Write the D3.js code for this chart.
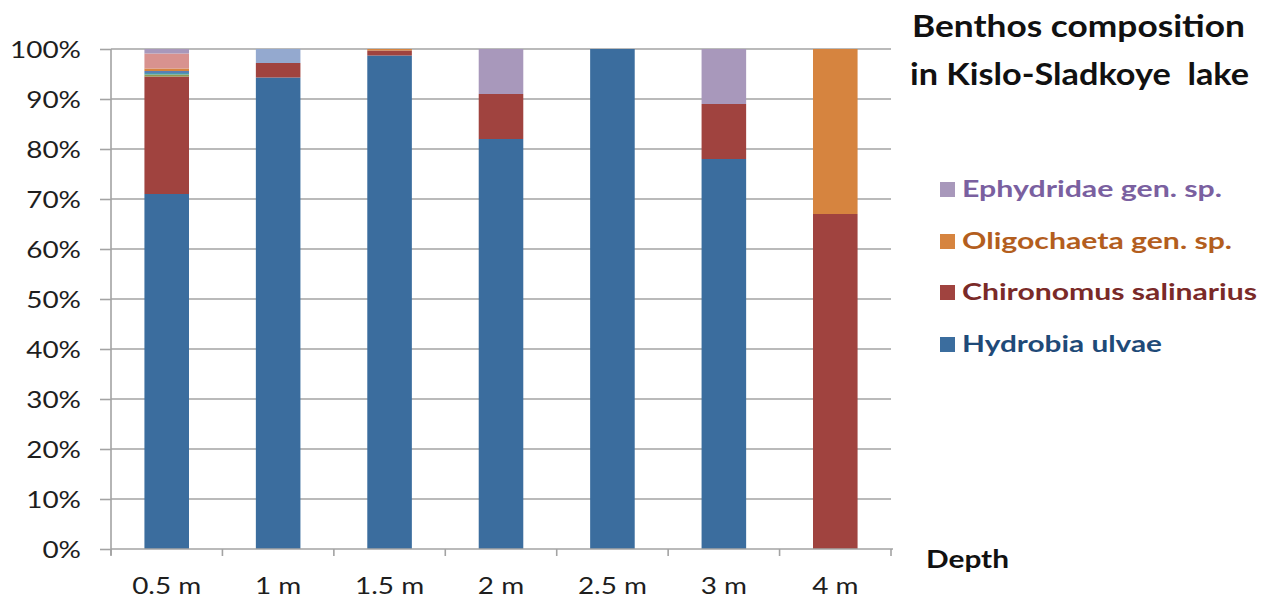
<!DOCTYPE html>
<html>
<head>
<meta charset="utf-8">
<script src="https://cdn.jsdelivr.net/npm/d3@7"></script>
<style>
  html, body { margin: 0; padding: 0; background: #fff; }
  svg { display: block; }
  text { font-family: Lato, "Open Sans", sans-serif; }
</style>
</head>
<body>
<svg id="chart" width="1263" height="603"></svg>
<script>
// Depth categories and share (%) of each taxon in the benthos
const depths = ["0.5 m", "1 m", "1.5 m", "2 m", "2.5 m", "3 m", "4 m"];
const hydrobiaUlvae        = [71.0, 94.3, 98.7, 82, 100, 78, 0];
const chironomusSalinarius = [23.5, 2.9, 1.0, 9, 0, 11, 67];
const minorTaxonA          = [0.4, 0, 0, 0, 0, 0, 0];
const minorTaxonB          = [0.3, 0, 0, 0, 0, 0, 0];
const minorTaxonC          = [0.4, 0, 0, 0, 0, 0, 0];
const oligochaetaGenSp     = [0.5, 0, 0.3, 0, 0, 0, 33];
const minorTaxonD          = [3.0, 0, 0, 0, 0, 0, 0];
const minorTaxonE          = [0, 2.8, 0, 0, 0, 0, 0];
const ephydridaeGenSp      = [0.9, 0, 0, 9, 0, 11, 0];
const yTicks = [0, 10, 20, 30, 40, 50, 60, 70, 80, 90, 100];

// Stack order, bottom to top
const series = [
  { key: "hyd", label: "Hydrobia ulvae",        values: hydrobiaUlvae,        color: "#3b6d9e", text: "#1f4a78" },
  { key: "chi", label: "Chironomus salinarius", values: chironomusSalinarius, color: "#a0433f", text: "#7a2a28" },
  { key: "mA",  label: null,                    values: minorTaxonA,          color: "#8e9b52" },
  { key: "mB",  label: null,                    values: minorTaxonB,          color: "#4a9cad" },
  { key: "mC",  label: null,                    values: minorTaxonC,          color: "#5a7fb6" },
  { key: "oli", label: "Oligochaeta gen. sp.",  values: oligochaetaGenSp,     color: "#d6843f", text: "#b35e1e" },
  { key: "mD",  label: null,                    values: minorTaxonD,          color: "#d8928f" },
  { key: "mE",  label: null,                    values: minorTaxonE,          color: "#94a9cf" },
  { key: "eph", label: "Ephydridae gen. sp.",   values: ephydridaeGenSp,      color: "#a898bb", text: "#7a60a0" }
];

const rows = depths.map((d, i) => {
  const r = { depth: d };
  series.forEach(s => { r[s.key] = s.values[i]; });
  return r;
});

const svg = d3.select("#chart");
const plot = { left: 111, right: 891, top: 49, bottom: 549 };

const x = d3.scaleBand().domain(depths).range([plot.left, plot.right]).paddingInner(0.6).paddingOuter(0.3);
const xEdges = d3.scaleLinear().domain([0, depths.length]).range([plot.left, plot.right]);
const y = d3.scaleLinear().domain([0, 100]).range([plot.bottom, plot.top]);

const axisColor = "#a3a3a3";

// Horizontal gridlines
svg.append("g").selectAll("line").data(yTicks.filter(t => t > 0)).join("line")
  .attr("x1", plot.left).attr("x2", plot.right)
  .attr("y1", d => y(d)).attr("y2", d => y(d))
  .attr("stroke", axisColor).attr("stroke-width", 1.6);

// Stacked bars
const stack = d3.stack().keys(series.map(s => s.key));
const layers = stack(rows);
svg.append("g").selectAll("g").data(layers).join("g")
  .attr("fill", (d, i) => series[i].color)
  .selectAll("rect").data(d => d).join("rect")
  .attr("x", d => x(d.data.depth))
  .attr("width", x.bandwidth())
  .attr("y", d => y(d[1]))
  .attr("height", d => Math.max(0, y(d[0]) - y(d[1])));

// Vertical axis
const yAxis = d3.axisLeft(y).tickValues(yTicks).tickSize(11).tickFormat(d => d + "%");
const gy = svg.append("g").attr("transform", `translate(${plot.left},0)`).call(yAxis);
gy.select(".domain").attr("stroke", axisColor).attr("stroke-width", 1.6).attr("d", `M0,${plot.bottom + 6}V${plot.top}`);
gy.selectAll(".tick line").attr("stroke", axisColor).attr("stroke-width", 1.6);
gy.selectAll(".tick text")
  .attr("font-size", 23).attr("fill", "#1e1e1e").attr("dy", null)
  .attr("font-family", "Lato, sans-serif");

// Horizontal axis with boundary ticks
const gx = svg.append("g");
gx.append("line").attr("x1", plot.left).attr("x2", plot.right + 2)
  .attr("y1", plot.bottom).attr("y2", plot.bottom)
  .attr("stroke", axisColor).attr("stroke-width", 1.6);
gx.selectAll("line.edge").data(d3.range(depths.length + 1)).join("line")
  .attr("class", "edge")
  .attr("x1", d => xEdges(d)).attr("x2", d => xEdges(d))
  .attr("y1", plot.bottom).attr("y2", plot.bottom + 7)
  .attr("stroke", axisColor).attr("stroke-width", 1.6);
const xLabels = gx.selectAll("text").data(depths).join("text")
  .attr("font-size", 23).attr("fill", "#1e1e1e").attr("text-anchor", "middle")
  .text(d => d);

// Widen tick label glyphs to the chart's proportions
const probe = gy.selectAll(".tick text").filter(d => d === 100).node();
const sx = 71 / probe.getComputedTextLength();
gy.selectAll(".tick text").each(function(d) {
  d3.select(this).attr("x", null).attr("y", null)
    .attr("transform", `translate(-30,${8.5})scale(${sx},1)`);
});
xLabels.attr("transform", d => `translate(${x(d) + x.bandwidth() / 2},594)scale(${sx},1)`);

// Title
const title = svg.append("g").attr("font-weight", 700).attr("fill", "#111").attr("font-size", 30);
[["Benthos composition", 37, 912, 333], ["in Kislo-Sladkoye\u00a0 lake", 85, 910, 339]].forEach(([t, by, bx, w]) => {
  title.append("text").attr("x", bx).attr("y", by)
    .attr("textLength", w).attr("lengthAdjust", "spacingAndGlyphs").text(t);
});

// Axis name
svg.append("text").attr("x", 926).attr("y", 568)
  .attr("font-size", 24).attr("font-weight", 700).attr("fill", "#111")
  .attr("textLength", 83).attr("lengthAdjust", "spacingAndGlyphs").text("Depth");

// Legend
const legendItems = [
  { s: series.find(s => s.key === "eph"), by: 197, w: 260 },
  { s: series.find(s => s.key === "oli"), by: 249, w: 270 },
  { s: series.find(s => s.key === "chi"), by: 300, w: 295 },
  { s: series.find(s => s.key === "hyd"), by: 352, w: 200 }
];
const lg = svg.append("g");
legendItems.forEach(({ s, by, w }) => {
  lg.append("rect").attr("x", 940).attr("y", by - 15).attr("width", 15).attr("height", 15).attr("fill", s.color);
  lg.append("text").attr("x", 962).attr("y", by)
    .attr("font-size", 22).attr("font-weight", 700).attr("fill", s.text)
    .attr("textLength", w).attr("lengthAdjust", "spacingAndGlyphs").text(s.label);
});
</script>
</body>
</html>
